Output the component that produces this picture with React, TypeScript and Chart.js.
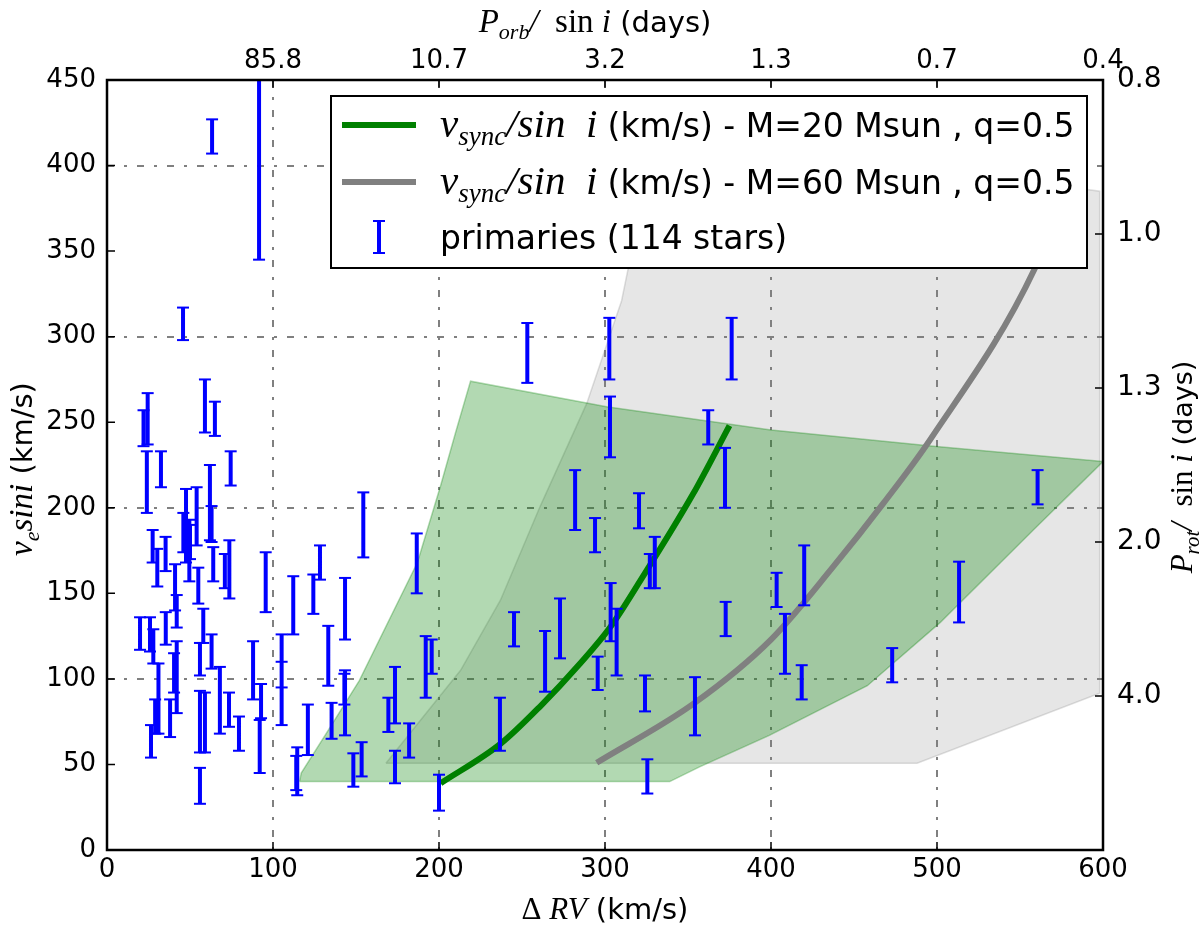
import React, { useEffect, useRef } from 'react';
import { Chart, registerables } from 'chart.js';

Chart.register(...registerables);

// primaries: Delta RV (km/s) with lower / upper v_e sin i (km/s)
const errX = [
  91.6, 63.3, 45.8,
  24.5, 22, 59, 65, 24, 32.5, 74.5, 47.6, 46, 50, 54, 62, 63, 27.5, 30.3, 35.3, 41, 49.6, 55, 64, 71, 73.7, 95.6,
  19.9, 25.9, 27.9, 35.4, 42, 42, 58, 56, 63, 68, 73.5, 79.5, 88, 92.8, 92, 31, 29, 26.5, 38, 56, 59, 56, 40.4,
  154.4, 128.3, 124.3, 112.2, 143.4, 186.6, 105.2, 105.2, 133.3, 143.4, 143, 192, 195.6, 121, 135.3, 114.6, 114,
  173.5, 169.5, 182, 153.4, 148.4, 173.5, 200,
  253.2, 302.6, 376.3, 303, 362.2, 372.3, 282, 294, 320.5, 330, 327,
  245.2, 272.9, 263.9, 303.4, 307, 295.6, 236.7, 324.1, 354.2, 325.5, 372.7,
  560.6, 420, 403.4, 513.3, 408.4, 418.5, 473,
];
const errLow = [
  345, 407, 298,
  237, 236, 244, 242, 197, 212, 213, 168, 174, 170, 178, 181, 180, 168, 154, 163, 140, 157, 144, 157, 153, 147, 139,
  117, 116, 109, 120, 130, 80, 121, 102, 106, 68, 72, 58, 88, 77, 45, 68, 68, 54, 66, 57, 57, 27, 92,
  171, 158, 138, 126, 123, 150, 95, 73, 96, 67, 85, 89, 103, 55.5, 65, 32, 35,
  74, 69, 54, 43, 37, 39, 23,
  273, 275, 275, 229.5, 237, 200, 187, 174, 188, 153, 153,
  119, 112, 92.5, 122, 102, 93.5, 58, 81, 67, 33, 125,
  202, 143, 142, 133, 103, 88, 98,
];
const errHigh = [
  470, 427, 317,
  267, 257, 275, 262, 233, 233, 233, 211, 197, 190, 212, 225, 201, 187, 176, 183, 167, 193, 165, 177, 173, 181, 174,
  136, 136, 129, 139, 149, 122, 141, 121, 126, 107, 92, 78, 122, 97, 76, 109, 88, 73, 88, 93, 92, 48, 115,
  209, 178, 161, 160, 159, 185, 126, 110, 131, 105, 103, 125, 123, 85, 86, 60, 55,
  107, 89, 74, 63, 56.5, 58, 44,
  308, 311, 311, 265, 257, 235, 222, 194, 208.5, 183, 173,
  139, 147, 128, 156, 141, 113, 89, 102, 101, 53, 145,
  222, 178, 162, 168.5, 138, 108, 118,
];

// v_sync / sin i curves
const syncM20X = [201, 237, 261, 285, 303, 321, 353, 375];
const syncM20Y = [39, 62, 84, 109, 130, 157, 208, 248];
const syncM60X = [295, 354, 400, 437, 468, 496, 559, 575];
const syncM60Y = [51, 86, 123, 165, 203, 240, 340, 380];

// shaded ranges (closed outlines)
const bandM20X = [116, 339, 357, 399, 458, 502, 558, 600, 498, 400, 301, 219, 210, 201, 187, 152, 132, 117, 116];
const bandM20Y = [40, 40, 48.6, 67, 96, 133, 187, 227, 236, 245.5, 259, 274, 244, 213, 168, 99, 68, 45, 40];
const bandM60X = [168, 488, 598, 598, 500, 400, 325, 314, 310, 289, 261, 237, 213, 168];
const bandM60Y = [50.7, 50.7, 91.6, 385, 398, 410, 420, 340, 321, 261, 201, 146, 105, 50.7];

// secondary axes
const topTickValues = [100, 200, 300, 400, 500, 600];
const porbLabels = ['85.8', '10.7', '3.2', '1.3', '0.7', '0.4'];
const rightTickValues = [90, 180, 270, 360, 450];
const protLabels = ['4.0', '2.0', '1.3', '1.0', '0.8'];

const SANS = '"DejaVu Sans"';
const SERIF = '"Liberation Serif"';
const tickFont = { family: 'DejaVu Sans', size: 26 };
const GRID_DASH = [7, 10, 3, 10];

type Part = { text: string; font: string; dy?: number };

const drawRich = (ctx: CanvasRenderingContext2D, parts: Part[], x: number, y: number, align: 'center' | 'left') => {
  let w = 0;
  parts.forEach(p => {
    ctx.font = p.font;
    w += ctx.measureText(p.text).width;
  });
  let cx = align === 'center' ? x - w / 2 : x;
  parts.forEach(p => {
    ctx.font = p.font;
    ctx.fillText(p.text, cx, y + (p.dy || 0));
    cx += ctx.measureText(p.text).width;
  });
};

const zip = (xs: number[], ys: number[]) => xs.map((x, i) => ({ x, y: ys[i] }));

const errorBarPoints = () => {
  const pts: { x: number; y: number | null }[] = [];
  errX.forEach((x, i) => {
    pts.push({ x, y: errLow[i] }, { x, y: errHigh[i] }, { x, y: null });
  });
  return pts;
};

const gridColor = (max: number) => (ctx: any) => {
  const v = ctx.tick ? ctx.tick.value : -1;
  return v > 0 && v < max && v % 100 === 0 ? '#808080' : 'rgba(0,0,0,0)';
};

const decorPlugin = {
  id: 'decor',
  afterDatasetsDraw(chart: any) {
    const { ctx, chartArea: a, scales } = chart;
    ctx.save();
    ctx.strokeStyle = '#000';
    ctx.lineWidth = 1.5;
    ctx.beginPath();
    for (let v = 0; v <= 450; v += 50) {
      const py = scales.y.getPixelForValue(v);
      ctx.moveTo(a.left, py);
      ctx.lineTo(a.left + 8, py);
    }
    for (let v = 0; v <= 600; v += 100) {
      const px = scales.x.getPixelForValue(v);
      ctx.moveTo(px, a.bottom);
      ctx.lineTo(px, a.bottom - 8);
      ctx.moveTo(px, a.top);
      ctx.lineTo(px, a.top + 8);
    }
    rightTickValues.forEach(v => {
      const py = scales.y2.getPixelForValue(v);
      ctx.moveTo(a.right, py);
      ctx.lineTo(a.right - 8, py);
    });
    ctx.stroke();
    ctx.lineWidth = 2.5;
    ctx.strokeRect(a.left, a.top, a.right - a.left, a.bottom - a.top);
    ctx.restore();
  },
  afterDraw(chart: any) {
    const { ctx, chartArea: a } = chart;
    ctx.save();
    ctx.textBaseline = 'alphabetic';

    // legend
    const lx = a.left + 224;
    const ly = a.top + 16;
    ctx.fillStyle = '#fff';
    ctx.fillRect(lx, ly, 756, 172);
    ctx.strokeStyle = '#000';
    ctx.lineWidth = 2;
    ctx.strokeRect(lx, ly, 756, 172);

    const rows = [29, 86, 141];
    ctx.lineWidth = 6;
    ctx.strokeStyle = '#008000';
    ctx.beginPath();
    ctx.moveTo(lx + 11, ly + rows[0]);
    ctx.lineTo(lx + 85, ly + rows[0]);
    ctx.stroke();
    ctx.strokeStyle = '#808080';
    ctx.beginPath();
    ctx.moveTo(lx + 11, ly + rows[1]);
    ctx.lineTo(lx + 85, ly + rows[1]);
    ctx.stroke();
    ctx.strokeStyle = '#0000ff';
    ctx.lineWidth = 4;
    ctx.beginPath();
    ctx.moveTo(lx + 48, ly + rows[2] - 16);
    ctx.lineTo(lx + 48, ly + rows[2] + 16);
    ctx.stroke();
    ctx.lineWidth = 2;
    ctx.beginPath();
    ctx.moveTo(lx + 42, ly + rows[2] - 16);
    ctx.lineTo(lx + 54, ly + rows[2] - 16);
    ctx.moveTo(lx + 42, ly + rows[2] + 16);
    ctx.lineTo(lx + 54, ly + rows[2] + 16);
    ctx.stroke();

    ctx.fillStyle = '#000';
    const syncLabel = (m: number): Part[] => [
      { text: 'v', font: `italic 41px ${SERIF}` },
      { text: 'sync', font: `italic 27px ${SERIF}`, dy: 8 },
      { text: '/', font: `italic 41px ${SERIF}` },
      { text: 'sin  i ', font: `italic 41px ${SERIF}` },
      { text: `(km/s) - M=${m} Msun , q=0.5`, font: `33px ${SANS}` },
    ];
    drawRich(ctx, syncLabel(20), lx + 109, ly + rows[0] + 12, 'left');
    drawRich(ctx, syncLabel(60), lx + 109, ly + rows[1] + 12, 'left');
    drawRich(ctx, [{ text: 'primaries (114 stars)', font: `33px ${SANS}` }], lx + 109, ly + rows[2] + 12, 'left');

    // axis titles
    const cx = (a.left + a.right) / 2;
    const cy = (a.top + a.bottom) / 2;
    drawRich(ctx, [
      { text: 'Δ ', font: `31px ${SERIF}` },
      { text: 'RV', font: `italic 31px ${SERIF}` },
      { text: ' (km/s)', font: `29px ${SANS}` },
    ], cx, 919, 'center');
    const periodLabel = (sub: string, big: number, small: number): Part[] => [
      { text: 'P', font: `italic ${big}px ${SERIF}` },
      { text: sub, font: `italic ${Math.round(big * 0.67)}px ${SERIF}`, dy: 7 },
      { text: '/  ', font: `italic ${big}px ${SERIF}` },
      { text: 'sin ', font: `${big}px ${SERIF}` },
      { text: 'i', font: `italic ${big}px ${SERIF}` },
      { text: ' (days)', font: `${small}px ${SANS}` },
    ];
    drawRich(ctx, periodLabel('orb', 33, 29), cx - 10, 32, 'center');

    ctx.save();
    ctx.translate(32, cy + 4);
    ctx.rotate(-Math.PI / 2);
    drawRich(ctx, [
      { text: 'v', font: `italic 33px ${SERIF}` },
      { text: 'e', font: `italic 22px ${SERIF}`, dy: 7 },
      { text: 'sini', font: `italic 33px ${SERIF}` },
      { text: ' (km/s)', font: `29px ${SANS}` },
    ], 0, 0, 'center');
    ctx.restore();

    ctx.save();
    ctx.translate(1192, cy + 2);
    ctx.rotate(-Math.PI / 2);
    drawRich(ctx, periodLabel('rot', 31, 27), 0, 0, 'center');
    ctx.restore();

    ctx.restore();
  },
};

export default function App() {
  const canvasRef = useRef<HTMLCanvasElement>(null);

  useEffect(() => {
    if (!canvasRef.current) return;

    const chart = new Chart(canvasRef.current, {
      type: 'scatter',
      data: {
        datasets: [
          {
            label: 'M=60 range',
            data: zip(bandM60X, bandM60Y),
            showLine: true,
            fill: 'shape',
            backgroundColor: 'rgba(128,128,128,0.2)',
            borderColor: 'rgba(128,128,128,0.25)',
            borderWidth: 1.5,
            pointRadius: 0,
            order: 10,
          },
          {
            label: 'M=20 range',
            data: zip(bandM20X, bandM20Y),
            showLine: true,
            fill: 'shape',
            backgroundColor: 'rgba(0,128,0,0.3)',
            borderColor: 'rgba(0,128,0,0.3)',
            borderWidth: 1.5,
            pointRadius: 0,
            order: 9,
          },
          {
            label: 'v_sync/sin i - M=20 Msun, q=0.5',
            data: zip(syncM20X, syncM20Y),
            showLine: true,
            borderColor: '#008000',
            borderWidth: 6,
            cubicInterpolationMode: 'monotone',
            pointRadius: 0,
            order: 4,
          },
          {
            label: 'v_sync/sin i - M=60 Msun, q=0.5',
            data: zip(syncM60X, syncM60Y),
            showLine: true,
            borderColor: '#808080',
            borderWidth: 6,
            cubicInterpolationMode: 'monotone',
            pointRadius: 0,
            order: 3,
          },
          {
            label: 'primaries (114 stars)',
            data: errorBarPoints(),
            showLine: true,
            spanGaps: false,
            borderColor: '#0000ff',
            borderWidth: 4,
            pointStyle: 'line',
            pointRadius: 6,
            pointHoverRadius: 6,
            pointBorderWidth: 2,
            pointBorderColor: '#0000ff',
            order: 1,
          },
        ] as any,
      },
      options: {
        responsive: true,
        maintainAspectRatio: false,
        animation: false,
        layout: { padding: 0 },
        plugins: {
          legend: { display: false },
          tooltip: { enabled: false },
        },
        scales: {
          x: {
            type: 'linear',
            position: 'bottom',
            min: 0,
            max: 600,
            ticks: { stepSize: 100, font: tickFont, color: '#000', padding: 5, maxRotation: 0, autoSkip: false },
            grid: { color: gridColor(600), lineWidth: 2, drawTicks: false },
            border: { display: false, dash: GRID_DASH },
            afterFit: (s: any) => { s.height = 79; },
          },
          x2: {
            type: 'linear',
            axis: 'x',
            position: 'top',
            min: 0,
            max: 600,
            afterBuildTicks: (s: any) => { s.ticks = topTickValues.map(v => ({ value: v })); },
            ticks: {
              font: tickFont,
              color: '#000',
              padding: 3,
              maxRotation: 0,
              autoSkip: false,
              callback: (v: any) => porbLabels[topTickValues.indexOf(Number(v))] ?? '',
            },
            grid: { display: false, drawTicks: false },
            border: { display: false },
            afterFit: (s: any) => { s.height = 80; },
          },
          y: {
            type: 'linear',
            position: 'left',
            min: 0,
            max: 450,
            ticks: { stepSize: 50, font: tickFont, color: '#000', padding: 11, autoSkip: false },
            grid: { color: gridColor(450), lineWidth: 2, drawTicks: false },
            border: { display: false, dash: GRID_DASH },
            afterFit: (s: any) => { s.width = 107; },
          },
          y2: {
            type: 'linear',
            axis: 'y',
            position: 'right',
            min: 0,
            max: 450,
            afterBuildTicks: (s: any) => { s.ticks = rightTickValues.map(v => ({ value: v })); },
            ticks: {
              font: { family: 'DejaVu Sans', size: 28 },
              color: '#000',
              padding: 14,
              autoSkip: false,
              callback: (v: any) => protLabels[rightTickValues.indexOf(Number(v))] ?? '',
            },
            grid: { display: false, drawTicks: false },
            border: { display: false },
            afterFit: (s: any) => { s.width = 97; },
          },
        },
      } as any,
      plugins: [decorPlugin],
    });

    return () => {
      chart.destroy();
    };
  }, []);

  return (
    <div style={{ position: 'fixed', left: 0, top: 0, width: 1200, height: 929, background: '#fff' }}>
      <canvas ref={canvasRef}></canvas>
    </div>
  );
}
